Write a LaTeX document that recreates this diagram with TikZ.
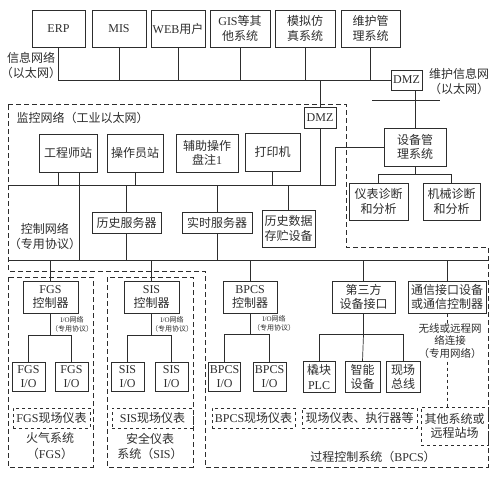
\documentclass[tikz,border=0pt]{standalone}
\usepackage{fontspec}
\usepackage{xcolor}
\usepackage{tikz}
\usetikzlibrary{positioning}
\setmainfont{Noto Sans CJK SC}
\newfontfamily\latinfont{Liberation Serif}
\newcommand{\en}[1]{{\latinfont #1}}
\definecolor{ink}{RGB}{45, 45, 45}

\begin{document}
\begin{tikzpicture}[x=1pt, y=-1pt,
    every node/.style={text=ink},
    unit/.style={draw=ink, line width=1pt, align=center, inner sep=1pt,
                 font=\fontsize{12}{14.5}\selectfont},
    field/.style={draw=ink, dashed, line width=0.7pt, align=center,
                  inner sep=1pt, minimum height=20pt,
                  font=\fontsize{12}{14.5}\selectfont},
    bus/.style={draw=ink, line width=0.7pt},
    zone/.style={draw=ink, line width=0.8pt, dash pattern=on 5pt off 3pt},
    lbl/.style={align=center, font=\fontsize{12}{15}\selectfont},
    iolbl/.style={align=center, font=\fontsize{7}{9}\selectfont}
  ]
  \useasboundingbox (0,0) rectangle (497,480);

  % Information network (Ethernet)
  \node[unit, minimum width=53pt, minimum height=37pt] (erp) at (58.5,28.5) {\en{ERP}};
  \node[unit, minimum width=54pt, minimum height=37pt] (mis) at (119,28.5)  {\en{MIS}};
  \node[unit, minimum width=54pt, minimum height=37pt] (web) at (178,28.5)  {\en{WEB}用户};
  \node[unit, minimum width=60pt, minimum height=37pt] (gis) at (240,28.5)  {\en{GIS}等其\\他系统};
  \node[unit, minimum width=60pt, minimum height=37pt] (sim) at (305,28.5)  {模拟仿\\真系统};
  \node[unit, minimum width=59pt, minimum height=37pt] (mnt) at (370.5,28.5) {维护管\\理系统};
  \node[lbl] (infolbl) at (31,65) {信息网络\\（以太网）};

  \node[unit, minimum width=31pt, minimum height=20pt] (dmzA) at (406.5,80) {\en{DMZ}};
  \node[lbl] (mntlbl) at (459,81) {维护信息网\\（以太网）};

  \draw[bus] (erp.south) |- (dmzA.west);
  \draw[bus] (mis.south) -- (mis.south |- dmzA.west);
  \draw[bus] (web.south) -- (web.south |- dmzA.west);
  \draw[bus] (gis.south) -- (gis.south |- dmzA.west);
  \draw[bus] (sim.south) -- (sim.south |- dmzA.west);
  \draw[bus] (mnt.south) -- (mnt.south |- dmzA.west);

  % Maintenance network
  \coordinate (mnL) at (372,100);
  \coordinate (mnR) at (440,100);
  \draw[bus] (mnL) -- (mnR);
  \node[unit, minimum width=62pt, minimum height=38pt] (dev) at (415,147) {设备管\\理系统};
  \node[unit, minimum width=59pt, minimum height=37pt] (ins) at (378.5,201.5) {仪表诊断\\和分析};
  \node[unit, minimum width=57pt, minimum height=37pt] (mch) at (451.5,201.5) {机械诊断\\和分析};
  \draw[bus] (dmzA.south -| dev.north) -- (dev.north);
  \draw[bus] (dev.south) -- ++(0,8) coordinate (devb);
  \draw[bus] (ins.north) |- (devb) -| (mch.north);

  % Monitoring network (industrial Ethernet)
  \draw[zone] (8,104) -- (346,104) -- (346,247) -- (488,247) -- (488,467)
              -- (205,467) -- (205,271) -- (8,271) -- cycle;
  \node[lbl, anchor=west] (monlbl) at (13,118) {监控网络（工业以太网）};
  \node[unit, minimum width=32pt, minimum height=21pt] (dmzB) at (320,117.5) {\en{DMZ}};
  \draw[bus] (dmzB.north) -- (dmzB.north |- dmzA.west);

  \node[unit, minimum width=58pt, minimum height=38pt] (eng) at (68,153)    {工程师站};
  \node[unit, minimum width=56pt, minimum height=38pt] (opr) at (135,153)   {操作员站};
  \node[unit, minimum width=62pt, minimum height=38pt] (aux) at (207,153)   {辅助操作\\盘注\en{1}};
  \node[unit, minimum width=55pt, minimum height=38pt] (prn) at (272.5,152) {打印机};

  \coordinate (monL) at (8,185);
  \coordinate (monR) at (335,185);
  \draw[bus] (monL) -- (monR) |- (dev.west);
  \draw[bus] (dmzB.south) -- (dmzB.south |- monL);

  \path (eng.south) ++(-10,0) coordinate (eng1) ++(21,0) coordinate (eng2);
  \draw[bus] (eng1) -- (eng1 |- monL);
  \draw[bus] (opr.south) -- (opr.south |- monL);
  \draw[bus] (prn.south) -- (prn.south |- monL);

  % Control network (dedicated protocol)
  \node[lbl] (ctllbl) at (45,236) {控制网络\\（专用协议）};
  \node[unit, minimum width=69pt, minimum height=21pt] (hsv) at (126.5,223) {历史服务器};
  \node[unit, minimum width=70pt, minimum height=21pt] (rsv) at (217,223)   {实时服务器};
  \node[unit, minimum width=53pt, minimum height=37pt] (hdb) at (288.5,228.5) {历史数据\\存贮设备};

  \coordinate (ctlL) at (8,260);
  \coordinate (ctlR) at (488,260);
  \draw[bus] (ctlL) -- (ctlR);
  \draw[bus] (eng2) -- (eng2 |- ctlL);
  \draw[bus] (hsv.north) -- (hsv.north |- monL);
  \draw[bus] (hsv.south) -- (hsv.south |- ctlL);
  \draw[bus] (rsv.north) -- (rsv.north |- monL);
  \draw[bus] (rsv.south) -- (rsv.south |- ctlL);
  \draw[bus] (hdb.north) -- (hdb.north |- monL);

  % FGS and SIS zones
  \draw[zone] (8,277) rectangle (93,467);
  \draw[zone] (107,277) rectangle (193,467);

  % Controllers
  \node[unit, minimum width=55pt, minimum height=32pt] (fgsc) at (50.5,297)  {\en{FGS}\\控制器};
  \node[unit, minimum width=55pt, minimum height=32pt] (sisc) at (151.5,297) {\en{SIS}\\控制器};
  \node[unit, minimum width=54pt, minimum height=32pt] (bpc)  at (250,297)   {\en{BPCS}\\控制器};
  \node[unit, minimum width=63pt, minimum height=32pt] (thd)  at (363.5,297) {第三方\\设备接口};
  \node[unit, minimum width=78pt, minimum height=32pt] (com)  at (447,297)   {通信接口设备\\或通信控制器};

  \draw[bus] (fgsc.north) -- (fgsc.north |- ctlL);
  \draw[bus] (sisc.north) -- (sisc.north |- ctlL);
  \draw[bus] (bpc.north)  -- (bpc.north |- ctlL);
  \draw[bus] (thd.north)  -- (thd.north |- ctlL);
  \draw[bus] (com.north)  -- (com.north |- ctlL);

  % I/O
  \node[unit, minimum width=33pt, minimum height=29pt] (fio1) at (28.5,376.5)  {\en{FGS}\\\en{I/O}};
  \node[unit, minimum width=33pt, minimum height=29pt] (fio2) at (71.5,376.5)  {\en{FGS}\\\en{I/O}};
  \node[unit, minimum width=33pt, minimum height=29pt] (sio1) at (127.5,376.5) {\en{SIS}\\\en{I/O}};
  \node[unit, minimum width=33pt, minimum height=29pt] (sio2) at (171.5,376.5) {\en{SIS}\\\en{I/O}};
  \node[unit, minimum width=32pt, minimum height=29pt] (bio1) at (224.5,376.5) {\en{BPCS}\\\en{I/O}};
  \node[unit, minimum width=33pt, minimum height=29pt] (bio2) at (269.5,376.5) {\en{BPCS}\\\en{I/O}};
  \node[unit, minimum width=32pt, minimum height=31pt] (plc)  at (319,377)     {橇块\\\en{PLC}};
  \node[unit, minimum width=35pt, minimum height=31pt] (smt)  at (362.5,377)   {智能\\设备};
  \node[unit, minimum width=34pt, minimum height=31pt] (fbs)  at (403,377)     {现场\\总线};

  \draw[bus] (fgsc.south) -- ++(0,22) coordinate (fgsb);
  \draw[bus] (fio1.north) |- (fgsb) -| (fio2.north);
  \draw[bus] (sisc.south) -- ++(0,22) coordinate (sisb);
  \draw[bus] (sio1.north) |- (sisb) -| (sio2.north);
  \draw[bus] (bpc.south) -- ++(0,21) coordinate (bpcb);
  \draw[bus] (bio1.north) |- (bpcb) -| (bio2.north);
  \draw[bus] (thd.south) -- ++(0,21) coordinate (thdb);
  \draw[bus] (plc.north) |- (thdb) -| (fbs.north);
  \draw[bus] (thdb) -- (smt.north);

  \node[iolbl] (fgsio) at (72,324)  {\en{I/O}网络\\（专用协议）};
  \node[iolbl] (sisio) at (172,324) {\en{I/O}网络\\（专用协议）};
  \node[iolbl] (bpcio) at (274,323) {\en{I/O}网络\\（专用协议）};

  % Field devices
  \node[field, minimum width=77pt]  (ffi) at (51.5,418)  {\en{FGS}现场仪表};
  \node[field, minimum width=81pt]  (sfi) at (152.5,418) {\en{SIS}现场仪表};
  \node[field, minimum width=83pt]  (bfi) at (253.5,418) {\en{BPCS}现场仪表};
  \node[field, minimum width=115pt] (efi) at (359.5,418) {现场仪表、执行器等};
  \node[field, minimum width=67pt, minimum height=38pt] (oth) at (454.5,426) {其他系统或\\远程站场};

  \draw[bus, dashed, line width=0.5pt] (com.south) -- (com.south |- oth.north);
  \node[align=center, fill=white, inner sep=1pt,
        font=\fontsize{10.5}{12.5}\selectfont] (wlbl) at (450,341) {无线或远程网\\络连接\\（专用网络）};

  % System labels
  \node[lbl] (fgslbl) at (50,446)  {火气系统\\（\en{FGS}）};
  \node[lbl] (sislbl) at (150,446) {安全仪表\\系统（\en{SIS}）};
  \node[lbl] (bpclbl) at (373,457) {过程控制系统（\en{BPCS}）};

\end{tikzpicture}
\end{document}
